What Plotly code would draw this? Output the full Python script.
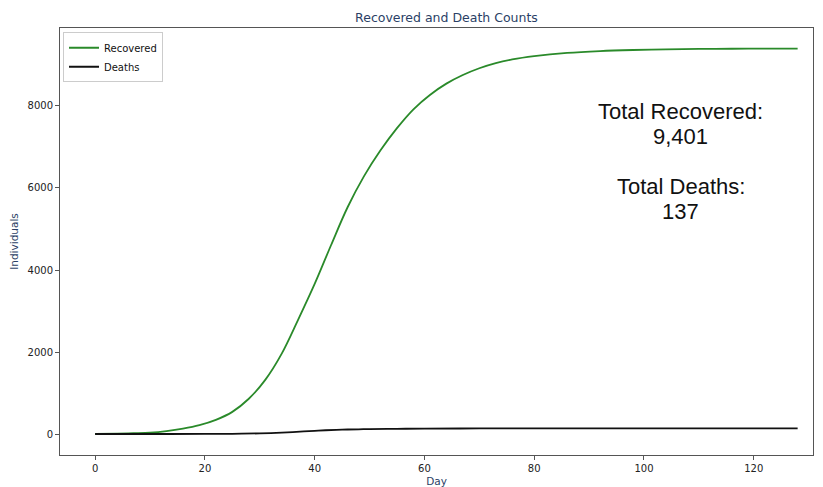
import plotly.graph_objects as go

days_rec = [0, 4, 7, 10, 13, 16, 19, 22, 25, 28, 31, 34, 37, 40, 43, 46, 49, 52, 55, 58,
            61, 64, 67, 70, 73, 76, 80, 86, 92, 98, 104, 110, 116, 122, 128]
recovered = [0, 8, 18, 32, 70, 130, 215, 345, 540, 860, 1320, 1960, 2790, 3660, 4610, 5530,
             6290, 6920, 7460, 7920, 8270, 8545, 8755, 8920, 9045, 9135, 9215, 9295, 9340,
             9366, 9382, 9391, 9396, 9399, 9401]

days_dth = [0, 10, 20, 25, 30, 33, 36, 38, 40, 42, 45, 48, 50, 55, 60, 70, 80, 100, 128]
deaths = [0, 0, 2, 5, 15, 28, 48, 62, 78, 92, 106, 115, 120, 127, 131, 135, 136, 137, 137]

total_recovered = 9401
total_deaths = 137

title_color = "#2b3f66"

fig = go.Figure()
fig.add_trace(go.Scatter(x=days_rec, y=recovered, mode="lines", name="Recovered",
                         line=dict(color="#2a8a2a", width=1.8, shape="spline", smoothing=1.0)))
fig.add_trace(go.Scatter(x=days_dth, y=deaths, mode="lines", name="Deaths",
                         line=dict(color="#111111", width=1.8, shape="spline")))

ann_lines = [f"Total Recovered:", f"{total_recovered:,}", "Total Deaths:", f"{total_deaths}"]
ann_y = [7863, 7253, 6032, 5421]
for txt, yy in zip(ann_lines, ann_y):
    fig.add_annotation(x=106.7, y=yy, xref="x", yref="y", text=txt, showarrow=False,
                       xanchor="center", yanchor="middle",
                       font=dict(family="Liberation Sans, Arial", size=22, color="#111111"))

# the page body has an 8px margin, so the figure is sized/offset to compensate
fig.update_layout(
    width=815, height=479,
    margin=dict(l=52, r=10, t=20, b=32),
    paper_bgcolor="white", plot_bgcolor="white",
    title=dict(text="Recovered and Death Counts", x=0.538, xanchor="center", y=0.979, yanchor="middle",
               font=dict(family="DejaVu Sans", size=12.5, color=title_color)),
    font=dict(family="DejaVu Sans", size=10, color="#222222"),
    showlegend=True,
    legend=dict(x=0.004, y=0.99, xanchor="left", yanchor="top", itemwidth=30,
                bgcolor="rgba(255,255,255,0.9)", bordercolor="#cccccc", borderwidth=1,
                font=dict(size=10, color="#111111"), tracegroupgap=0),
)
fig.update_xaxes(range=[-6.4, 130.8], tickvals=[0, 20, 40, 60, 80, 100, 120], automargin=False,
                 showgrid=False, zeroline=False, showline=True, linecolor="#555555", linewidth=1,
                 mirror=True, ticks="outside", ticklen=4, tickcolor="#555555",
                 title=dict(text="Day", font=dict(size=10.5, color=title_color), standoff=4))
fig.update_yaxes(range=[-512, 9902], tickvals=[0, 2000, 4000, 6000, 8000], automargin=False,
                 showgrid=False, zeroline=False, showline=True, linecolor="#555555", linewidth=1,
                 mirror=True, ticks="outside", ticklen=4, tickcolor="#555555",
                 title=dict(text="Individuals", font=dict(size=10.5, color=title_color), standoff=8))

fig.write_html("out.html")
